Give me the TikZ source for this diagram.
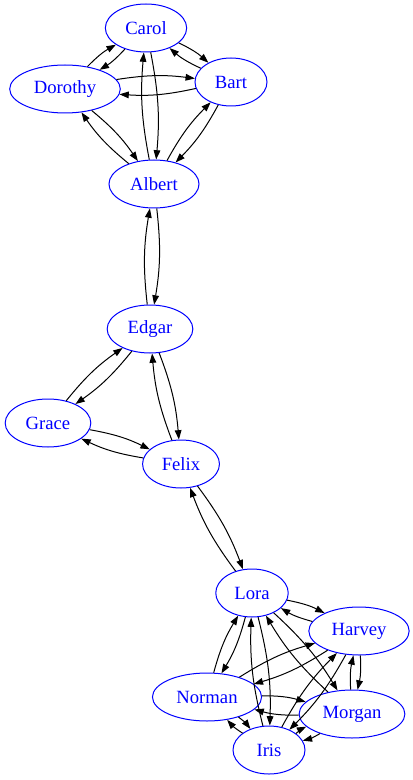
\documentclass[tikz,border=0pt]{standalone}
\usepackage{fontspec}
\setmainfont{Liberation Serif}
\usetikzlibrary{arrows.meta, shapes.geometric}

\begin{document}
\begin{tikzpicture}[
    x=0.75pt, y=0.75pt,
    person/.style={ellipse, draw=blue, text=blue, line width=0.75pt, minimum width=54pt, minimum height=36pt, inner xsep=6pt, inner ysep=2pt, font=\fontsize{14}{16}\selectfont},
    arr/.style={-{Triangle[length=7pt, width=5pt]}, line width=0.75pt, bend left=8},
]
\useasboundingbox (0,0) rectangle (413,-780);

% upper group
\node[person] (carol) at (146,-28) {Carol};
\node[person] (dorothy) at (65,-89) {Dorothy};
\node[person] (bart) at (231,-82) {Bart};
\node[person] (albert) at (154,-184) {Albert};
% middle group
\node[person] (edgar) at (150,-329) {Edgar};
\node[person] (grace) at (48,-423) {Grace};
\node[person] (felix) at (181,-464) {Felix};
% lower group
\node[person] (lora) at (252,-593) {Lora};
\node[person] (harvey) at (359,-631) {Harvey};
\node[person] (norman) at (207,-697) {Norman};
\node[person] (morgan) at (352,-714) {Morgan};
\node[person] (iris) at (269,-750) {Iris};

\draw[arr] (carol) to (dorothy);
\draw[arr] (dorothy) to (carol);
\draw[arr] (carol) to (bart);
\draw[arr] (bart) to (carol);
\draw[arr] (carol) to (albert);
\draw[arr] (albert) to (carol);
\draw[arr] (dorothy) to (bart);
\draw[arr] (bart) to (dorothy);
\draw[arr] (dorothy) to (albert);
\draw[arr] (albert) to (dorothy);
\draw[arr] (bart) to (albert);
\draw[arr] (albert) to (bart);

\draw[arr] (albert) to (edgar);
\draw[arr] (edgar) to (albert);

\draw[arr] (edgar) to (grace);
\draw[arr] (grace) to (edgar);
\draw[arr] (edgar) to (felix);
\draw[arr] (felix) to (edgar);
\draw[arr] (grace) to (felix);
\draw[arr] (felix) to (grace);

\draw[arr] (felix) to (lora);
\draw[arr] (lora) to (felix);

\draw[arr] (lora) to (harvey);
\draw[arr] (harvey) to (lora);
\draw[arr] (lora) to (norman);
\draw[arr] (norman) to (lora);
\draw[arr] (lora) to (morgan);
\draw[arr] (morgan) to (lora);
\draw[arr] (lora) to (iris);
\draw[arr] (iris) to (lora);
\draw[arr] (harvey) to (norman);
\draw[arr] (norman) to (harvey);
\draw[arr] (harvey) to (morgan);
\draw[arr] (morgan) to (harvey);
\draw[arr] (harvey) to (iris);
\draw[arr] (iris) to (harvey);
\draw[arr] (norman) to (morgan);
\draw[arr] (morgan) to (norman);
\draw[arr] (norman) to (iris);
\draw[arr] (iris) to (norman);
\draw[arr] (morgan) to (iris);
\draw[arr] (iris) to (morgan);
\end{tikzpicture}
\end{document}
